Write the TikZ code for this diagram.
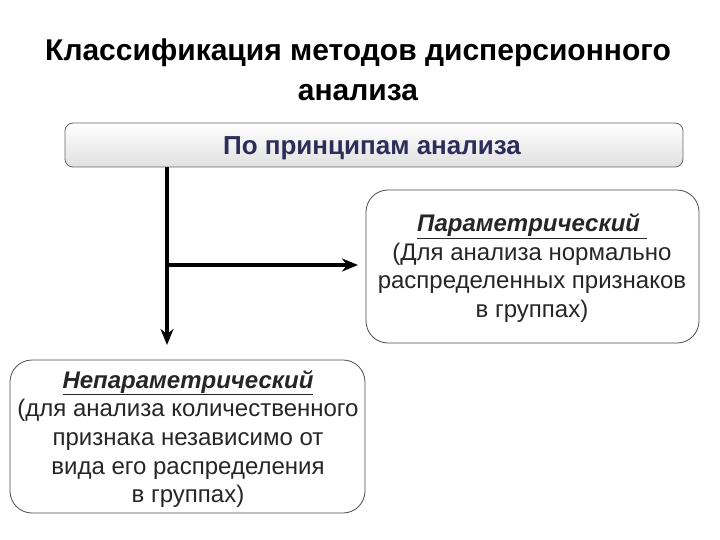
\documentclass[tikz,border=0pt]{standalone}
\usepackage{fontspec}
\setmainfont{Liberation Sans}
\usetikzlibrary{arrows.meta}
\begin{document}
\begin{tikzpicture}[x=1pt,y=-1pt,
  box/.style={draw=black!70,line width=0.8pt,rounded corners=22pt,fill=white},
  conn/.style={line width=3.5pt,-{Stealth[length=16pt,width=13pt,inset=5pt]}},
  txt/.style={font=\fontsize{24}{28.7}\selectfont,align=center,text=black!85}]
\useasboundingbox (0,0) rectangle (720,540);
\node[font=\fontsize{30}{40}\selectfont\bfseries,align=center] (title) at (358,70)
  {Классификация методов дисперсионного\\анализа};
\draw[draw=black!60,line width=0.8pt,rounded corners=8pt,top color=white,bottom color=black!12]
  (65,123) rectangle (683,167);
\node[font=\fontsize{26}{30}\selectfont\bfseries,text={rgb,255:red,45;green,45;blue,90}] (top) at (372,148) {По принципам анализа};
\draw[box] (366,190) rectangle (699,343);
\node[txt] (right) at (532,268) {\textit{\textbf{\underline{Параметрический }}}\\(Для анализа нормально\\распределенных признаков\\в группах)};
\draw[box] (10,360) rectangle (365,513);
\node[txt] (left) at (188,439) {\textit{\textbf{\underline{Непараметрический}}}\\(для анализа количественного\\признака независимо от\\вида его распределения\\в группах)};
\coordinate (s) at (167,167);
\coordinate (d) at (167,345);
\coordinate (j) at (167,265);
\coordinate (e) at (358,265);
\draw[conn] (s) -- (d);
\draw[conn] (j) -- (e);
\end{tikzpicture}
\end{document}
